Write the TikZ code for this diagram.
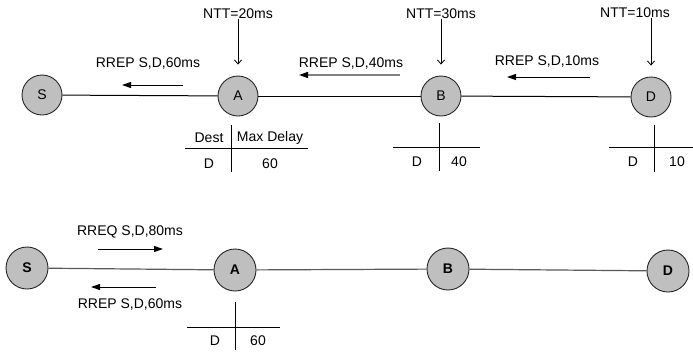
\documentclass[tikz,border=0pt]{standalone}
\usepackage{fontspec}
\setmainfont{Liberation Sans}
\usetikzlibrary{arrows.meta}
\begin{document}
\begin{tikzpicture}[x=1pt,y=-1pt,
  every node/.style={font=\fontsize{14}{16}\selectfont},
  station/.style={circle,draw=black!85,fill=black!25,line width=0.9pt,minimum size=40pt,inner sep=0pt},
  stationb/.style={station,minimum size=42pt,font=\fontsize{14}{16}\bfseries\selectfont},
  lbl/.style={inner sep=0pt,anchor=center},
  ntt/.style={inner sep=0pt,anchor=south},
  link/.style={draw=black,line width=1pt},
  linkb/.style={draw=black!65,line width=1.2pt},
  msg/.style={draw=black,line width=1pt,-{Triangle[length=9pt,width=6pt]}},
  msggray/.style={draw=black!50,line width=1.4pt,-{Triangle[length=9pt,width=6pt,color=black]}},
  down/.style={draw=black,line width=0.8pt,-{Straight Barb[length=4pt,width=7pt]},shorten >=11pt},
  tab/.style={draw=black,line width=0.9pt}]
\useasboundingbox (0,0) rectangle (693,354);

% ---------- top scenario ----------
\node[station] (S1) at (42,95) {S};
\node[station] (A1) at (238,96) {A};
\node[station] (B1) at (441,96) {B};
\node[station] (D1) at (651,97) {D};
\draw[link] (S1) -- (A1);
\draw[link] (A1) -- (B1);
\draw[link] (B1) -- (D1);

\node[ntt] (nttA) at (238,19) {NTT=20ms};
\node[ntt] (nttB) at (441,19) {NTT=30ms};
\node[ntt] (nttD) at (635,18) {NTT=10ms};
\draw[down] (nttA.south) -- (A1);
\draw[down] (nttB.south) -- (B1);
\draw[down] (nttD.south -| D1) -- (D1);

\node[lbl] (r60) at (148,64) {RREP S,D,60ms};
\node[lbl] (r40) at (351,64) {RREP S,D,40ms};
\node[lbl] (r10) at (547,62) {RREP S,D,10ms};
\coordinate (r60a) at (183,85);
\coordinate (r60b) at (122,85);
\coordinate (r40a) at (400,75);
\coordinate (r40b) at (299,75);
\coordinate (r10a) at (590,77);
\coordinate (r10b) at (507,77);
\draw[msg] (r60a) -- (r60b);
\draw[msggray] (r40a) -- (r40b);
\draw[msg] (r10a) -- (r10b);

% table at A
\draw[tab] (231,125) -- (231,172);
\draw[tab] (185,148) -- (308,148);
\node[lbl] (tAh1) at (209,138) {Dest};
\node[lbl] (tAh2) at (270,138) {Max Delay};
\node[lbl] (tAd) at (209,164) {D};
\node[lbl] (tAv) at (270,164) {60};
% table at B
\draw[tab] (439,123) -- (439,171);
\draw[tab] (393,147) -- (480,147);
\node[lbl] (tBd) at (417,162) {D};
\node[lbl] (tBv) at (459,162) {40};
% table at D
\draw[tab] (654,125) -- (654,172);
\draw[tab] (609,147) -- (693,147);
\node[lbl] (tDd) at (633,162) {D};
\node[lbl] (tDv) at (677,162) {10};

% ---------- bottom scenario ----------
\node[stationb] (S2) at (27,268) {S};
\node[stationb] (A2) at (235,270) {A};
\node[stationb] (B2) at (448,269) {B};
\node[stationb] (D2) at (668,271) {D};
\draw[linkb] (S2) -- (A2);
\draw[linkb] (A2) -- (B2);
\draw[linkb] (B2) -- (D2);

\node[lbl] (q80) at (130,232) {RREQ S,D,80ms};
\node[lbl] (p60) at (130,305) {RREP S,D,60ms};
\coordinate (q80a) at (98,249);
\coordinate (q80b) at (163,249);
\coordinate (p60a) at (156,287);
\coordinate (p60b) at (91,287);
\draw[msg] (q80a) -- (q80b);
\draw[msg] (p60a) -- (p60b);

% table at A (bottom)
\draw[tab] (235,302) -- (235,350);
\draw[tab] (187,327) -- (280,327);
\node[lbl] (tA2d) at (215,341) {D};
\node[lbl] (tA2v) at (258,341) {60};
\end{tikzpicture}
\end{document}
